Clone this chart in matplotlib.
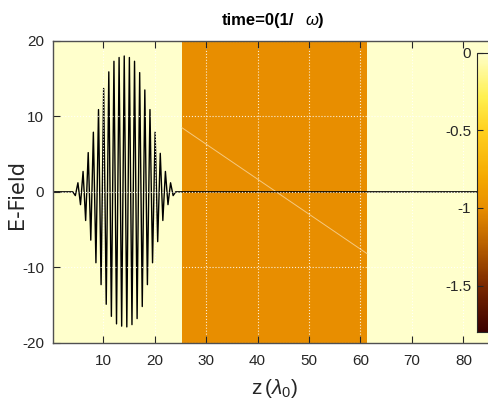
import matplotlib
matplotlib.use('Agg')
import matplotlib.pyplot as plt
from matplotlib.colors import LinearSegmentedColormap

plt.rcParams['font.family'] = ['Liberation Sans', 'DejaVu Sans']
plt.rcParams['mathtext.fontset'] = 'custom'
plt.rcParams['mathtext.rm'] = 'Liberation Sans'
plt.rcParams['mathtext.it'] = 'Liberation Sans:italic'
plt.rcParams['axes.unicode_minus'] = False

# medium along z (uniform across E), drawn as colour
region_edges = [0.2, 25.3, 61.3, 86.3]
region_values = [0.0, -1.0, 0.0]
color_limits = (-1.8, 0.0)

# colour stops of the map
cmap_values = [-1.8, -1.5, -1.24, -1.0, -0.8, -0.5, -0.28, 0.0]
cmap_colors = ['#3a0000', '#7a2800', '#b86000', '#e88e00', '#f5aa00', '#ffd020', '#fff050', '#ffffcc']

# laser pulse: field extrema every half wavelength around the centre
pulse_center = 14.1
half_wavelength = 0.5
pulse_extrema = [0.0, -0.5, 1.2, -1.7, 2.7, -3.8, 5.2, -6.4, 7.9, -9.4, 10.9, -12.3,
                 13.7, -14.9, 15.9, -16.5, 17.3, -17.5, 17.8, -17.8,
                 18.0,
                 -17.9, 17.8, -17.6, 17.3, -16.8, 15.8, -15.2, 13.5, -12.3, 10.9,
                 -9.4, 7.9, -6.6, 5.1, -3.8, 2.7, -1.7, 1.2, -0.5, 0.0]

# faint line across the slab
diag_z = [25.3, 61.3]
diag_e = [8.5, -8.2]

x_ticks = [10, 20, 30, 40, 50, 60, 70, 80]
y_ticks = [-20, -10, 0, 10, 20]
cbar_ticks = [0, -0.5, -1, -1.5]
cbar_labels = ['0', '-0.5', '-1', '-1.5']

n_half = len(pulse_extrema) // 2
z_pulse = [region_edges[0]]
e_pulse = [0.0]
for k, val in enumerate(pulse_extrema):
    z_pulse.append(pulse_center + (k - n_half) * half_wavelength)
    e_pulse.append(val)
z_pulse.append(region_edges[-1])
e_pulse.append(0.0)

span = color_limits[1] - color_limits[0]
cmap = LinearSegmentedColormap.from_list(
    'medium', [((v - color_limits[0]) / span, c) for v, c in zip(cmap_values, cmap_colors)])

fig = plt.figure(figsize=(4.88, 4.09), dpi=100)
ax = fig.add_axes([0.108, 0.162, 0.908, 0.738])

mesh = ax.pcolormesh(region_edges, [-20, 20], [region_values], cmap=cmap,
                     vmin=color_limits[0], vmax=color_limits[1], zorder=0)
ax.plot(diag_z, diag_e, color='#f8d8a0', lw=0.7, alpha=0.8, zorder=1)
ax.plot(z_pulse, e_pulse, color='black', lw=1.0, zorder=2)

ax.set_xlim(region_edges[0], region_edges[-1])
ax.set_ylim(-20, 20)
ax.set_xticks(x_ticks)
ax.set_yticks(y_ticks)
ax.grid(True, color='white', linestyle=':', lw=0.8, alpha=0.85)
ax.set_axisbelow(False)
ax.tick_params(direction='in', length=5, top=True, right=True, labelsize=11,
               colors='#262626', width=0.8)
ax.tick_params(axis='x', pad=8)
ax.tick_params(axis='y', pad=6)
for s in ax.spines.values():
    s.set_color('#505050')
    s.set_linewidth(1.0)
    s.set_zorder(4)

ax.set_xlabel(r'z$\,(\lambda_0)$', fontsize=15, color='#262626')
ax.xaxis.set_label_coords(0.5, -0.115)
ax.set_ylabel('E-Field', fontsize=15, color='#262626', family='DejaVu Sans')
ax.yaxis.set_label_coords(-0.058, 0.49)

fig.text(222 / 488, 1 - 20 / 409, 'time=0(1/', fontsize=12, weight='bold', va='center')
fig.text(305 / 488, 1 - 20 / 409, r'$\omega$)', fontsize=12, weight='bold', va='center')

cax = fig.add_axes([0.977, 0.188, 0.041, 0.683])
cbar = fig.colorbar(mesh, cax=cax, ticks=cbar_ticks)
cbar.ax.set_yticklabels(cbar_labels)
cbar.ax.yaxis.set_ticks_position('left')
cbar.ax.yaxis.set_label_position('left')
cbar.ax.tick_params(direction='in', length=4, labelsize=11, colors='#262626', pad=4)
cbar.outline.set_edgecolor('#262626')

fig.savefig('out.png', dpi=100)
